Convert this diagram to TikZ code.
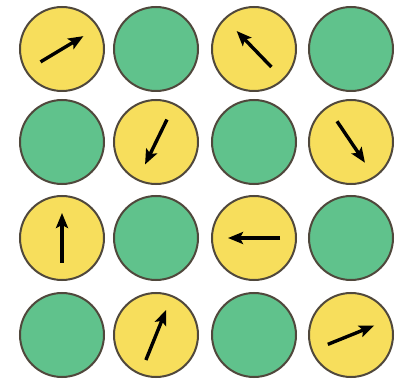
\documentclass[tikz,border=0pt]{standalone}
\usetikzlibrary{arrows.meta}
\definecolor{yel}{RGB}{247,222,92}
\definecolor{grn}{RGB}{96,194,140}
\definecolor{rim}{RGB}{80,72,60}
\begin{document}
\begin{tikzpicture}[x=1pt,y=1pt,
  disc/.style={circle,draw=rim,line width=2pt,minimum size=84pt,inner sep=0pt},
  ydisc/.style={disc,fill=yel},
  gdisc/.style={disc,fill=grn},
  spin/.style={line width=3.4pt,-{Stealth[length=15pt,width=12pt,inset=3pt]},black}]
\useasboundingbox (0,0) rectangle (400,381);
\fill[white] (0,0) rectangle (400,381);
\node[ydisc] (c11) at (62,332) {};
\node[gdisc] (c12) at (156,332) {};
\node[ydisc] (c13) at (254,332) {};
\node[gdisc] (c14) at (351,332) {};
\node[gdisc] (c21) at (62,239) {};
\node[ydisc] (c22) at (156,239) {};
\node[gdisc] (c23) at (254,239) {};
\node[ydisc] (c24) at (351,239) {};
\node[ydisc] (c31) at (62,143) {};
\node[gdisc] (c32) at (156,143) {};
\node[ydisc] (c33) at (254,143) {};
\node[gdisc] (c34) at (351,143) {};
\node[gdisc] (c41) at (62,46) {};
\node[ydisc] (c42) at (156,46) {};
\node[gdisc] (c43) at (254,46) {};
\node[ydisc] (c44) at (351,46) {};
\draw[spin] ([shift={(211:25)}]c11.center) -- ([shift={(31:25)}]c11.center);
\draw[spin] ([shift={(-46:25)}]c13.center) -- ([shift={(134:25)}]c13.center);
\draw[spin] ([shift={(64:25)}]c22.center) -- ([shift={(244:25)}]c22.center);
\draw[spin] ([shift={(124:25)}]c24.center) -- ([shift={(-56:25)}]c24.center);
\draw[spin] ([shift={(270:25)}]c31.center) -- ([shift={(90:25)}]c31.center);
\draw[spin] ([shift={(0:26)}]c33.center) -- ([shift={(180:26)}]c33.center);
\draw[spin] ([shift={(248:27)}]c42.center) -- ([shift={(68:27)}]c42.center);
\draw[spin] ([shift={(202:25)}]c44.center) -- ([shift={(22:25)}]c44.center);
\end{tikzpicture}
\end{document}
